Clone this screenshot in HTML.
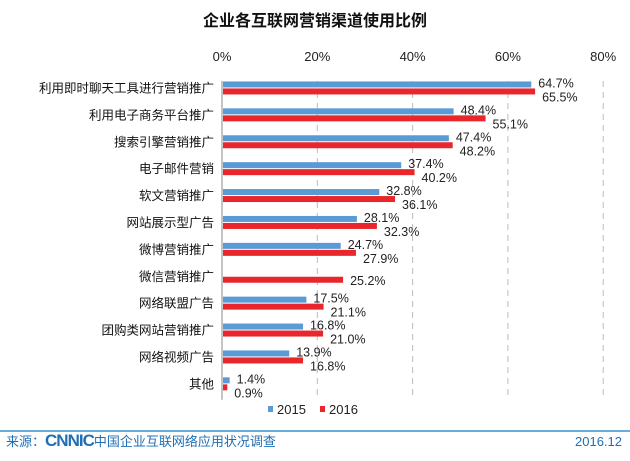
<!DOCTYPE html>
<html><head><meta charset="utf-8"><style>
body{margin:0;width:630px;height:456px;background:#fff;overflow:hidden;font-family:"Liberation Sans","Noto Sans CJK SC",sans-serif;}
svg text{font-family:"Liberation Sans","Noto Sans CJK SC",sans-serif;}
</style></head><body>
<svg id="c" width="630" height="456">
<text x="315" y="26" text-anchor="middle" font-size="16" font-weight="bold" fill="#111">企业各互联网营销渠道使用比例</text>
<g id="grid"></g><g id="bars"></g>
<g>
<rect x="268" y="406" width="5" height="6" fill="#5b9bd5"/>
<text x="277" y="414" font-size="13" fill="#222">2015</text>
<rect x="320" y="406" width="5" height="6" fill="#e8262b"/>
<text x="329" y="414" font-size="13" fill="#222">2016</text>
</g>
<line x1="0" y1="431" x2="630" y2="431" stroke="#3a8fd0" stroke-width="1.5"/>
<text x="6" y="446" font-size="13" fill="#1f6fb5">来源：<tspan font-weight="bold" font-size="17" letter-spacing="-1">CNNIC</tspan>中国企业互联网络应用状况调查</text>
<text x="622" y="446" text-anchor="end" font-size="13" fill="#1f6fb5">2016.12</text>
</svg>
<script>
const categories=["利用即时聊天工具进行营销推广","利用电子商务平台推广","搜索引擎营销推广","电子邮件营销","软文营销推广","网站展示型广告","微博营销推广","微信营销推广","网络联盟广告","团购类网站营销推广","网络视频广告","其他"];
const values2015=[64.7,48.4,47.4,37.4,32.8,28.1,24.7,null,17.5,16.8,13.9,1.4];
const values2016=[65.5,55.1,48.2,40.2,36.1,32.3,27.9,25.2,21.1,21.0,16.8,0.9];
const ticks=[0,20,40,60,80];
const NS="http://www.w3.org/2000/svg";
const x0=222,pxPer=4.765,top0=75,band=26.9;
const xs=v=>x0+v*pxPer;
const ys=i=>top0+i*band;
function mk(t,a,p){const e=document.createElementNS(NS,t);for(const k in a)e.setAttribute(k,a[k]);p.appendChild(e);return e;}
const g=document.getElementById('grid'),b=document.getElementById('bars');
ticks.forEach(t=>{
 const tx=mk('text',{x:xs(t),y:61,'text-anchor':'middle','font-size':13,fill:'#222'},g);tx.textContent=t+'%';
 
 
 if(t>0){const l=mk('line',{x1:xs(t),x2:xs(t),y1:ys(0)+6,y2:ys(categories.length)+2,stroke:'#bbb','stroke-dasharray':'6,5'},g);
 
 }
});
const ax=mk('line',{x1:x0,x2:x0,y1:ys(0)+6,y2:ys(categories.length)+2,stroke:'#888'},g);


categories.forEach((c,i)=>{
 const yc=ys(i)+band/2;
 const lb=mk('text',{x:x0-8,y:yc+4,'text-anchor':'end','font-size':12.5,fill:'#111'},b);lb.textContent=c;
 
 
 const v1=values2015[i],v2=values2016[i];
 if(v1!=null){const r=mk('rect',{x:x0+1,y:yc-7,width:Math.max(3,xs(v1)-x0),height:6,fill:'#5b9bd5'},b);
  
  
  const t=mk('text',{x:xs(v1)+8,y:yc-1,'font-size':12.5,fill:'#222'},b);t.textContent=v1.toFixed(1)+'%';
  
  }
 const r2=mk('rect',{x:x0+1,y:yc,width:Math.max(3,xs(v2)-x0),height:6,fill:'#e8262b'},b);
 
 
 const t2=mk('text',{x:xs(v2)+8,y:yc+(v1==null?8:13),'font-size':12.5,fill:'#222'},b);t2.textContent=v2.toFixed(1)+'%';
 
 
});
</script>
</body></html>
